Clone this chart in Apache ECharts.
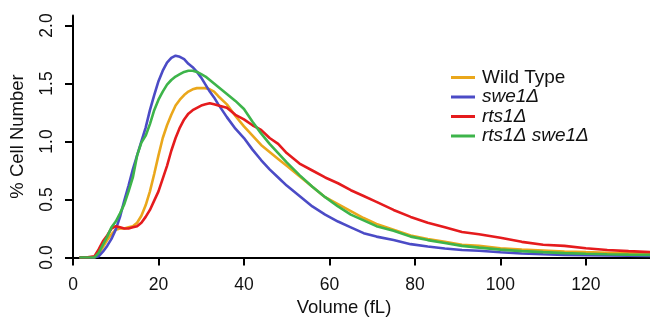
<!DOCTYPE html>
<html>
<head>
<meta charset="utf-8">
<script src="https://cdn.jsdelivr.net/npm/echarts@6/dist/echarts.min.js"></script>
<style>
html,body{margin:0;padding:0;background:#fff;}
#chart{width:650px;height:323px;}
</style>
</head>
<body>
<div id="chart"></div>
<script>
// Volume (fL) sample points shared by all series
const volume = [1.5, 3, 5, 6, 7, 8, 9, 10, 11, 12, 13, 14, 15, 16, 17, 18, 19, 20, 21, 22, 23, 24, 25, 26, 27, 28, 29, 30, 31, 32, 33, 34, 36, 38, 40, 42, 44, 46, 48, 50, 53, 56, 59, 62, 65, 68, 71, 75, 79, 83, 87, 91, 95, 100, 105, 110, 115, 120, 125, 130, 136];

// % Cell Number per strain
const wildType = [0, 0, 0, 0.03, 0.09, 0.15, 0.20, 0.24, 0.25, 0.25, 0.26, 0.27, 0.30, 0.36, 0.45, 0.57, 0.72, 0.88, 1.03, 1.14, 1.23, 1.31, 1.36, 1.40, 1.43, 1.45, 1.46, 1.46, 1.46, 1.45, 1.43, 1.39, 1.32, 1.22, 1.13, 1.05, 0.97, 0.91, 0.85, 0.79, 0.70, 0.61, 0.52, 0.46, 0.40, 0.34, 0.29, 0.24, 0.19, 0.16, 0.135, 0.11, 0.10, 0.08, 0.068, 0.06, 0.052, 0.046, 0.041, 0.036, 0.03];
const swe1 = [0, 0, 0, 0.01, 0.05, 0.10, 0.16, 0.24, 0.35, 0.49, 0.62, 0.76, 0.88, 1.00, 1.12, 1.27, 1.40, 1.52, 1.61, 1.68, 1.72, 1.74, 1.73, 1.71, 1.67, 1.64, 1.60, 1.55, 1.49, 1.43, 1.38, 1.32, 1.21, 1.11, 1.03, 0.93, 0.84, 0.76, 0.69, 0.62, 0.53, 0.44, 0.37, 0.31, 0.26, 0.21, 0.18, 0.15, 0.115, 0.095, 0.078, 0.065, 0.058, 0.045, 0.035, 0.028, 0.023, 0.02, 0.017, 0.015, 0.013];
const rts1 = [0, 0, 0.01, 0.07, 0.14, 0.19, 0.25, 0.27, 0.26, 0.25, 0.25, 0.26, 0.27, 0.30, 0.35, 0.41, 0.49, 0.57, 0.68, 0.79, 0.92, 1.03, 1.12, 1.19, 1.24, 1.27, 1.29, 1.31, 1.32, 1.33, 1.32, 1.31, 1.29, 1.23, 1.19, 1.14, 1.10, 1.03, 0.98, 0.90, 0.81, 0.75, 0.69, 0.64, 0.58, 0.53, 0.48, 0.41, 0.35, 0.30, 0.26, 0.22, 0.20, 0.17, 0.135, 0.11, 0.10, 0.08, 0.065, 0.055, 0.045];
const rts1swe1 = [0, 0, 0, 0.04, 0.11, 0.18, 0.26, 0.31, 0.38, 0.46, 0.57, 0.69, 0.88, 0.99, 1.05, 1.15, 1.27, 1.36, 1.43, 1.49, 1.53, 1.56, 1.58, 1.60, 1.61, 1.61, 1.60, 1.58, 1.56, 1.53, 1.50, 1.47, 1.41, 1.35, 1.28, 1.17, 1.07, 0.98, 0.90, 0.82, 0.71, 0.61, 0.52, 0.44, 0.37, 0.32, 0.27, 0.23, 0.18, 0.15, 0.125, 0.10, 0.085, 0.068, 0.055, 0.046, 0.038, 0.032, 0.028, 0.025, 0.022];

const seriesNames = ['Wild Type', 'swe1\u0394', 'rts1\u0394', 'rts1\u0394 swe1\u0394'];
const seriesValues = [wildType, swe1, rts1, rts1swe1];
const seriesColors = ['#EAA71B', '#4B4BC6', '#E51B1D', '#3DB44A'];
const xTicks = [0, 20, 40, 60, 80, 100, 120];
const yTicks = [0, 0.5, 1.0, 1.5, 2.0];

const FONT = '"Liberation Sans", Arial, Helvetica, sans-serif';
const chart = echarts.init(document.getElementById('chart'), null, {renderer: 'canvas'});

const series = seriesNames.map((name, i) => ({
  name: name,
  type: 'line',
  data: volume.map((v, j) => [v, seriesValues[i][j]]),
  showSymbol: false,
  symbol: 'none',
  lineStyle: {color: seriesColors[i], width: 2.6},
  itemStyle: {color: seriesColors[i]},
  animation: false,
  z: 2
}));

chart.setOption({
  animation: false,
  backgroundColor: '#ffffff',
  grid: {left: 72, right: 0, top: 15.5, bottom: 65.5, containLabel: false},
  xAxis: {
    type: 'value', min: 0, max: 135,
    axisLine: {show: true, onZero: false, lineStyle: {color: '#000', width: 2}},
    axisTick: {show: true, length: 8, lineStyle: {color: '#000', width: 2}, customValues: xTicks},
    axisLabel: {show: true, customValues: xTicks, margin: 19, fontSize: 17.5, color: '#111', fontFamily: FONT,
      formatter: v => String(v)},
    splitLine: {show: false}
  },
  yAxis: {
    type: 'value', min: 0, max: 2.086,
    name: '% Cell Number', nameLocation: 'middle', nameGap: 46,
    nameTextStyle: {fontSize: 18.5, color: '#111', fontFamily: FONT},
    axisLine: {show: true, onZero: false, lineStyle: {color: '#000', width: 2}},
    axisTick: {show: true, length: 8, lineStyle: {color: '#000', width: 2}, customValues: yTicks},
    axisLabel: {show: true, customValues: yTicks, rotate: 90, margin: 17, fontSize: 17.5, color: '#111', fontFamily: FONT,
      formatter: v => v.toFixed(1)},
    splitLine: {show: false}
  },
  legend: {
    orient: 'vertical', left: 446, top: 63,
    icon: 'rect', itemWidth: 24, itemHeight: 3, itemGap: 0.5,
    textStyle: {fontSize: 19, color: '#111', fontFamily: FONT, lineHeight: 16, padding: [0, 0, 0, 2]},
    data: seriesNames.map((n, i) => ({name: n, textStyle: {fontStyle: i === 0 ? 'normal' : 'italic'}}))
  },
  graphic: [{
    type: 'text', x: 344, y: 298,
    style: {text: 'Volume (fL)', fontSize: 18.5, fill: '#111', fontFamily: FONT, align: 'center', textAlign: 'center'}
  }],
  series: series
});
</script>
</body>
</html>
